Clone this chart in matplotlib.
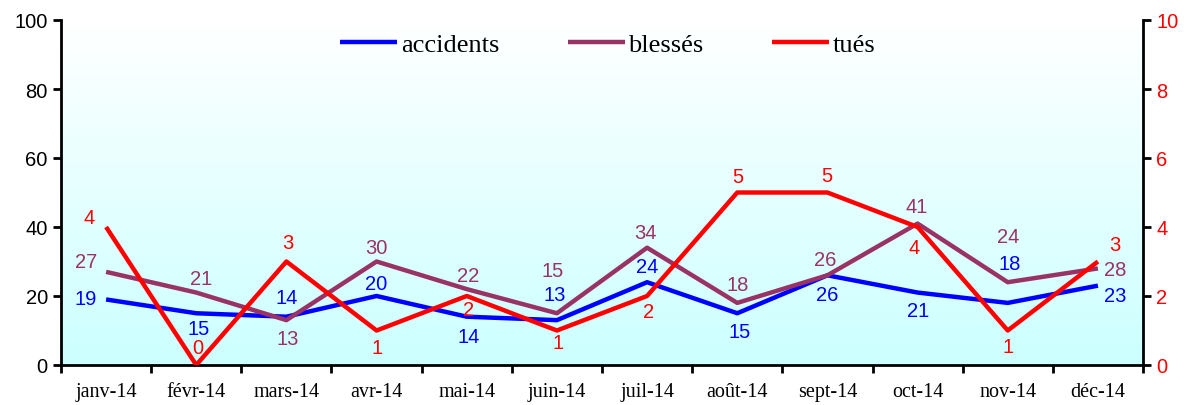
import matplotlib
matplotlib.use("Agg")
import matplotlib.pyplot as plt
import numpy as np
from matplotlib.colors import LinearSegmentedColormap

# ==========================================
# DATEN
# ==========================================
mois = ["janv-14", "févr-14", "mars-14", "avr-14", "mai-14", "juin-14",
        "juil-14", "août-14", "sept-14", "oct-14", "nov-14", "déc-14"]
accidents = [19, 15, 14, 20, 14, 13, 24, 15, 26, 21, 18, 23]
blesses = [27, 21, 13, 30, 22, 15, 34, 18, 26, 41, 24, 28]
tues = [4, 0, 3, 1, 2, 1, 2, 5, 5, 4, 1, 3]

# Etikettenverschiebung in Pixel (dx, dy), nur Stil
off_acc = [(-20, 1), (2, -15), (0, 19), (0, 13), (2, -20), (-2, 26),
           (0, 16), (2, -18), (0, -19), (1, -18), (2, 39), (17, -10)]
off_bles = [(-20, 10), (5, 14), (1, -18), (0, 14), (1, 14), (-4, 43),
            (-2, 15), (0, 18), (-2, 16), (-1, 17), (0, 46), (17, -1)]
off_tues = [(-17, 9), (2, 17), (1, 19), (0, -17), (2, -13), (1, -12),
            (1, -16), (1, 16), (-1, 17), (-3, -21), (0, -16), (17, 17)]

c_acc = "#0000FF"
c_bles = "#993366"
c_tues = "#FF0000"

fig = plt.figure(figsize=(11.89, 4.06), dpi=100)
ax = fig.add_axes([61 / 1189, 40 / 406, 1082 / 1189, 345 / 406])
ax2 = ax.twinx()

x = np.arange(len(mois))

# Hintergrund-Verlauf (weiß oben -> hellcyan unten)
cmap = LinearSegmentedColormap.from_list("bg", ["#CCFFFF", "#FFFFFF"])
grad = np.linspace(0, 1, 256).reshape(-1, 1)
ax.imshow(grad, aspect="auto", cmap=cmap, origin="lower",
          extent=[0, 1, 0, 1], transform=ax.transAxes, zorder=0)

l1, = ax.plot(x, accidents, color=c_acc, lw=3.2, label="accidents",
              solid_capstyle="butt", zorder=3)
l2, = ax.plot(x, blesses, color=c_bles, lw=3.2, label="blessés",
              solid_capstyle="butt", zorder=3)
l3, = ax2.plot(x, tues, color=c_tues, lw=3.2, label="tués",
               solid_capstyle="butt", zorder=3)

px = 0.72  # Pixel -> Punkt


def beschriften(achse, werte, offs, farbe):
    for xi, v, (dx, dy) in zip(x, werte, offs):
        achse.annotate(str(v), (xi, v), xytext=(dx * px, dy * px),
                       textcoords="offset points", ha="center", va="center",
                       color=farbe, fontsize=14.5, family="Liberation Sans",
                       zorder=5)


beschriften(ax, accidents, off_acc, c_acc)
beschriften(ax, blesses, off_bles, c_bles)
beschriften(ax2, tues, off_tues, c_tues)

ax.set_xlim(-0.5, len(mois) - 0.5)
ax.set_ylim(0, 100)
ax2.set_ylim(0, 10)
ax.set_yticks(np.arange(0, 101, 20))
ax2.set_yticks(np.arange(0, 11, 2))

ax.set_xticks(x)
ax.set_xticklabels(mois, family="Liberation Serif", fontsize=14.5)
ax.set_xticks(np.arange(-0.5, len(mois)), minor=True)
ax.tick_params(axis="x", which="major", length=0, pad=12)
ax.tick_params(axis="x", which="minor", length=6, width=2, direction="out")
ax.tick_params(axis="y", length=6, width=2, direction="out", labelsize=14.5)
ax2.tick_params(axis="y", length=6, width=2, direction="out", labelsize=14.5,
                colors=c_tues)
ax2.tick_params(axis="y", color="black")
for lab in ax.get_yticklabels() + ax2.get_yticklabels():
    lab.set_family("Liberation Sans")

for a in (ax, ax2):
    a.spines["top"].set_visible(False)
    for s in ("left", "right", "bottom"):
        a.spines[s].set_linewidth(2)
ax2.spines["left"].set_visible(False)
ax2.spines["bottom"].set_visible(False)
ax.spines["right"].set_visible(False)

ax2.legend(handles=[l1, l2, l3], loc="center", ncol=3, frameon=False,
           bbox_to_anchor=(0.5055, 0.93),
           prop={"family": "Liberation Serif", "size": 19},
           handlelength=2.15, handletextpad=0.15, columnspacing=2.6)

fig.savefig("out.png", dpi=100)
